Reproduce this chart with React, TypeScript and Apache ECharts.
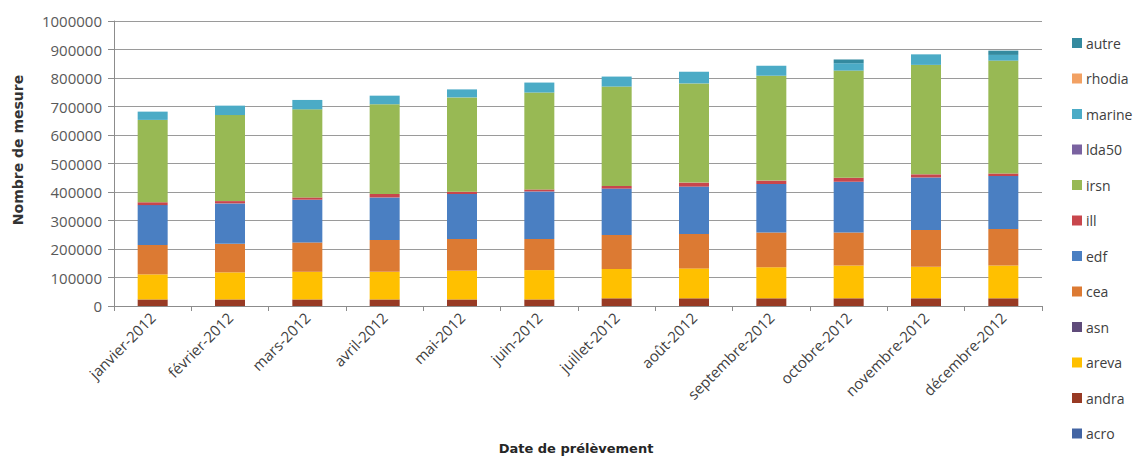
import React, { useEffect, useRef } from "react";
import * as echarts from "echarts";

// Monthly measurement counts per producer, stacked bottom to top.
const months = [
  "janvier-2012",
  "février-2012",
  "mars-2012",
  "avril-2012",
  "mai-2012",
  "juin-2012",
  "juillet-2012",
  "août-2012",
  "septembre-2012",
  "octobre-2012",
  "novembre-2012",
  "décembre-2012",
];

const acro = [0, 0, 0, 0, 0, 0, 0, 0, 0, 0, 0, 0];
const andra = [23000, 23000, 23000, 23000, 23000, 23000, 27000, 27000, 27000, 27000, 27000, 27000];
const areva = [88000, 95000, 97000, 97000, 101000, 103000, 103000, 105000, 109000, 115000, 111000, 115000];
const asn = [0, 0, 0, 0, 0, 0, 0, 0, 0, 0, 0, 0];
const cea = [103000, 100000, 103000, 112000, 111000, 109000, 119000, 121000, 122000, 116000, 129000, 128000];
const edf = [140000, 142000, 150000, 149000, 158000, 167000, 163000, 166000, 170000, 178000, 184000, 186000];
const ill = [10000, 8000, 8000, 12000, 8000, 7000, 9000, 14000, 12000, 14000, 11000, 9000];
const irsn = [289000, 302000, 309000, 315000, 331000, 340000, 349000, 348000, 368000, 376000, 384000, 396000];
const lda50 = [0, 0, 0, 0, 0, 0, 0, 0, 0, 0, 0, 0];
const marine = [29000, 33000, 33000, 30000, 28000, 35000, 35000, 41000, 35000, 26000, 37000, 20000];
const rhodia = [0, 0, 0, 0, 0, 0, 0, 0, 0, 0, 0, 0];
const autre = [0, 0, 0, 0, 0, 0, 0, 0, 0, 13000, 0, 15000];

const yTicks = [0, 100000, 200000, 300000, 400000, 500000, 600000, 700000, 800000, 900000, 1000000];

const stackSeries: { name: string; data: number[]; color: string }[] = [
  { name: "acro", data: acro, color: "#4264a3" },
  { name: "andra", data: andra, color: "#983a24" },
  { name: "areva", data: areva, color: "#ffc000" },
  { name: "asn", data: asn, color: "#5f4b7a" },
  { name: "cea", data: cea, color: "#dc7a33" },
  { name: "edf", data: edf, color: "#4a7fc2" },
  { name: "ill", data: ill, color: "#c8464c" },
  { name: "irsn", data: irsn, color: "#98b954" },
  { name: "lda50", data: lda50, color: "#7a62a0" },
  { name: "marine", data: marine, color: "#4babc6" },
  { name: "rhodia", data: rhodia, color: "#f2a163" },
  { name: "autre", data: autre, color: "#348a9f" },
];

const tickFont = "'Open Sans', 'DejaVu Sans', sans-serif";
const titleFont = "'DejaVu Sans', 'Open Sans', sans-serif";

export default function App() {
  const ref = useRef<HTMLDivElement>(null);

  useEffect(() => {
    if (!ref.current) return;
    const chart = echarts.init(ref.current, undefined, { renderer: "svg" });
    chart.setOption({
      animation: false,
      backgroundColor: "#ffffff",
      grid: { left: 114, right: 98, top: 21, bottom: 151, containLabel: false },
      legend: {
        orient: "vertical",
        left: 1067,
        top: 31,
        itemWidth: 10,
        itemHeight: 10,
        itemGap: 21.5,
        icon: "rect",
        selectedMode: false,
        data: stackSeries.map((s) => s.name).reverse(),
        textStyle: {
          fontFamily: tickFont,
          fontSize: 14,
          lineHeight: 14,
          color: "#404040",
          padding: [0, 0, 0, -1],
        },
      },
      xAxis: {
        type: "category",
        data: months,
        axisLine: { show: true, lineStyle: { color: "#8c8c8c", width: 1 } },
        axisTick: { show: true, length: 5, lineStyle: { color: "#8c8c8c" } },
        axisLabel: {
          rotate: 45,
          interval: 0,
          margin: 9,
          fontFamily: tickFont,
          fontSize: 15,
          color: "#404040",
        },
      },
      yAxis: {
        type: "value",
        min: 0,
        max: 1000000,
        interval: 100000,
        axisLine: { show: true, lineStyle: { color: "#8c8c8c", width: 1 } },
        axisTick: { show: true, length: 6, lineStyle: { color: "#8c8c8c" } },
        splitLine: { show: true, lineStyle: { color: "#9a9a9a", width: 1 } },
        axisLabel: {
          margin: 12,
          fontFamily: tickFont,
          fontSize: 15,
          color: "#595959",
          formatter: (v: number) => (yTicks.includes(v) ? String(v) : ""),
        },
      },
      graphic: [
        {
          type: "text",
          x: 18,
          y: 150,
          rotation: Math.PI / 2,
          style: {
            text: "Nombre de mesure",
            fontFamily: titleFont,
            fontWeight: "bold",
            fontSize: 14,
            fill: "#333333",
            align: "center",
            verticalAlign: "middle",
          },
        },
        {
          type: "text",
          x: 576,
          y: 448,
          style: {
            text: "Date de prélèvement",
            fontFamily: titleFont,
            fontWeight: "bold",
            fontSize: 13,
            fill: "#262626",
            align: "center",
            verticalAlign: "middle",
          },
        },
      ],
      series: stackSeries.map((s) => ({
        name: s.name,
        type: "bar",
        stack: "total",
        barWidth: 30,
        data: s.data,
        itemStyle: { color: s.color },
        emphasis: { disabled: true },
      })),
    });
    return () => chart.dispose();
  }, []);

  return (
    <div
      ref={ref}
      style={{ position: "fixed", left: 0, top: 0, width: 1140, height: 457 }}
    />
  );
}
